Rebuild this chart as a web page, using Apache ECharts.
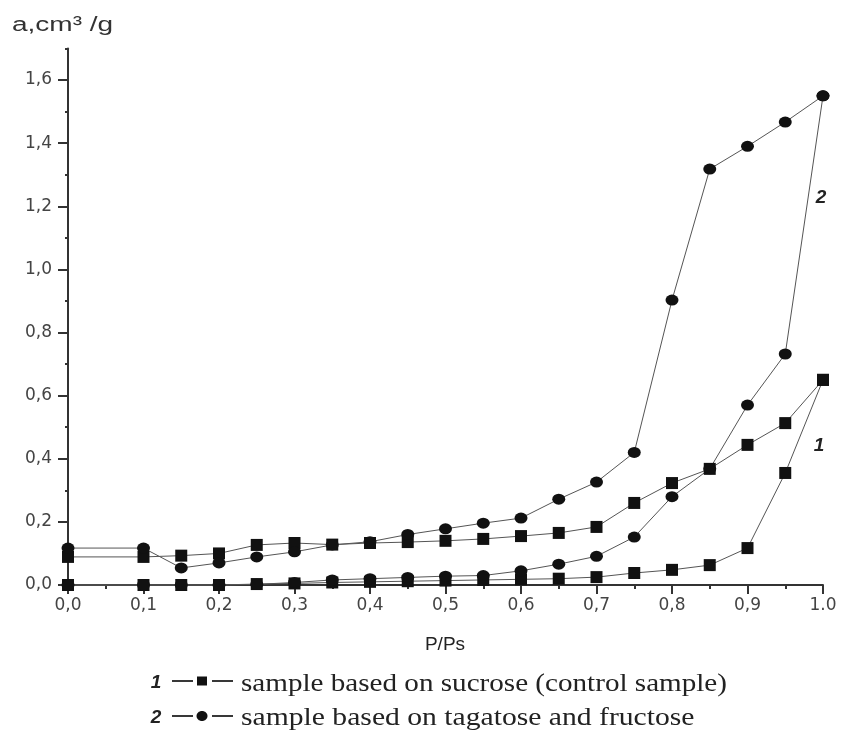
<!DOCTYPE html>
<html>
<head>
<meta charset="utf-8">
<script src="https://cdn.jsdelivr.net/npm/echarts@6/dist/echarts.min.js"></script>
<style>
html,body{margin:0;padding:0;background:#fff;}
#chart{width:841px;height:730px;}
</style>
</head>
<body>
<div id="chart"></div>
<script>
// Relative pressure values (P/Ps)
const pressure = [0, 0.1, 0.15, 0.2, 0.25, 0.3, 0.35, 0.4, 0.45, 0.5, 0.55, 0.6, 0.65, 0.7, 0.75, 0.8, 0.85, 0.9, 0.95, 1.0];
// Sample 1 (sucrose, control) - adsorption (lower) and desorption (upper) branches
const sucroseAdsorption = [0, 0, 0, 0, 0.003, 0.005, 0.008, 0.01, 0.012, 0.014, 0.016, 0.018, 0.02, 0.025, 0.038, 0.048, 0.063, 0.117, 0.355, 0.65];
const sucroseDesorption = [0.089, 0.089, 0.093, 0.1, 0.127, 0.133, 0.128, 0.133, 0.136, 0.14, 0.146, 0.155, 0.165, 0.184, 0.26, 0.323, 0.368, 0.444, 0.513, 0.65];
// Sample 2 (tagatose and fructose)
const tagatoseAdsorption = [0, 0, 0, 0, 0.002, 0.008, 0.016, 0.02, 0.024, 0.028, 0.03, 0.045, 0.066, 0.091, 0.152, 0.28, 0.368, 0.57, 0.732, 1.55];
const tagatoseDesorption = [0.117, 0.117, 0.054, 0.07, 0.089, 0.105, 0.127, 0.137, 0.16, 0.178, 0.196, 0.212, 0.272, 0.326, 0.42, 0.903, 1.318, 1.39, 1.467, 1.55];

const xTickLabels = ['0,0','0,1','0,2','0,3','0,4','0,5','0,6','0,7','0,8','0,9','1.0'];
const yTickValues = [0, 0.2, 0.4, 0.6, 0.8, 1.0, 1.2, 1.4, 1.6];
const yTickLabels = ['0,0','0,2','0,4','0,6','0,8','1,0','1,2','1,4','1,6'];

const yAxisTitle = 'a,cm³ /g';
const xAxisTitle = 'P/Ps';
const legendTexts = ['sample based on sucrose (control sample)', 'sample based on tagatose and fructose'];
const legendNums = ['1', '2'];
const curveNums = ['1', '2'];

function pairs(ys){ return pressure.map((x,i)=>[x, ys[i]]); }

const lineColor = '#555';
const markColor = '#111';

function mkSeries(ys, symbol, size){
  return {
    type: 'line',
    data: pairs(ys),
    symbol: symbol,
    symbolSize: size,
    showAllSymbol: true,
    clip: false,
    lineStyle: {color: lineColor, width: 1},
    itemStyle: {color: markColor},
    emphasis: {disabled: true},
    z: 3
  };
}

const chart = echarts.init(document.getElementById('chart'), null, {renderer: 'canvas'});
const grid = {left: 68, right: 18, top: 48.5, bottom: 145};
const axisColor = '#333';
const labelFont = {fontFamily: '"DejaVu Sans", sans-serif', fontSize: 17, color: '#444'};
const sansBI = 'italic bold 19px "Liberation Sans", Arial, sans-serif';
const serif = '26px "Liberation Serif", "Times New Roman", serif';

const option = {
  animation: false,
  backgroundColor: '#fff',
  grid: grid,
  xAxis: {
    type: 'value', min: 0, max: 1, interval: 0.1,
    axisLine: {show: true, lineStyle: {color: axisColor, width: 2}},
    axisTick: {show: true, length: 9, lineStyle: {color: axisColor, width: 2}},
    minorTick: {show: true, splitNumber: 2, length: 4, lineStyle: {color: axisColor, width: 2}},
    splitLine: {show: false},
    axisLabel: Object.assign({margin: 12, formatter: function(v){ return xTickLabels[Math.round(v*10)]; }}, labelFont)
  },
  yAxis: [{
    type: 'value', min: 0, max: 1.7, interval: 0.1,
    axisLine: {show: true, lineStyle: {color: axisColor, width: 2}},
    axisTick: {show: true, length: 3, lineStyle: {color: axisColor, width: 2}},
    splitLine: {show: false},
    axisLabel: {show: false}
  }, {
    type: 'value', min: 0, max: 1.7, interval: 0.1, position: 'left',
    axisLine: {show: false},
    axisTick: {show: true, length: 10, customValues: yTickValues, lineStyle: {color: axisColor, width: 2}},
    splitLine: {show: false},
    axisLabel: Object.assign({margin: 16, customValues: yTickValues, formatter: function(v){
      const i = yTickValues.findIndex(t => Math.abs(t - v) < 1e-6);
      return i >= 0 ? yTickLabels[i] : '';
    }}, labelFont)
  }],
  series: [
    mkSeries(sucroseAdsorption, 'rect', 12),
    mkSeries(sucroseDesorption, 'rect', 12),
    mkSeries(tagatoseAdsorption, 'circle', [13, 11]),
    mkSeries(tagatoseDesorption, 'circle', [13, 11])
  ],
  graphic: [
    {type: 'text', x: 12, y: 25, scaleX: 1.4, style: {text: yAxisTitle, font: '20px "Liberation Sans", Arial, sans-serif', fill: '#333', align: 'left', verticalAlign: 'middle'}},
    {type: 'text', x: 445, y: 645, style: {text: xAxisTitle, font: '19px "Liberation Sans", Arial, sans-serif', fill: '#222', align: 'center', verticalAlign: 'middle'}},
    {type: 'text', x: 821, y: 198, style: {text: curveNums[1], font: sansBI, fill: '#222', align: 'center', verticalAlign: 'middle'}},
    {type: 'text', x: 819, y: 446, style: {text: curveNums[0], font: sansBI, fill: '#222', align: 'center', verticalAlign: 'middle'}},
    // legend row 1
    {type: 'text', x: 156, y: 683, style: {text: legendNums[0], font: sansBI, fill: '#222', align: 'center', verticalAlign: 'middle'}},
    {type: 'line', shape: {x1: 172, y1: 681, x2: 193, y2: 681}, style: {stroke: '#222', lineWidth: 1.8}},
    {type: 'rect', shape: {x: 197, y: 676.5, width: 10, height: 9}, style: {fill: '#111'}},
    {type: 'line', shape: {x1: 212, y1: 681, x2: 233, y2: 681}, style: {stroke: '#222', lineWidth: 1.8}},
    {type: 'text', x: 241, y: 684, scaleX: 1.12, style: {text: legendTexts[0], font: serif, fill: '#222', align: 'left', verticalAlign: 'middle'}},
    // legend row 2
    {type: 'text', x: 156, y: 718, style: {text: legendNums[1], font: sansBI, fill: '#222', align: 'center', verticalAlign: 'middle'}},
    {type: 'line', shape: {x1: 172, y1: 716, x2: 193, y2: 716}, style: {stroke: '#222', lineWidth: 1.8}},
    {type: 'ellipse', shape: {cx: 202, cy: 716, rx: 5.5, ry: 5}, style: {fill: '#111'}},
    {type: 'line', shape: {x1: 212, y1: 716, x2: 233, y2: 716}, style: {stroke: '#222', lineWidth: 1.8}},
    {type: 'text', x: 241, y: 718, scaleX: 1.14, style: {text: legendTexts[1], font: serif, fill: '#222', align: 'left', verticalAlign: 'middle'}}
  ]
};
chart.setOption(option);
</script>
</body>
</html>
